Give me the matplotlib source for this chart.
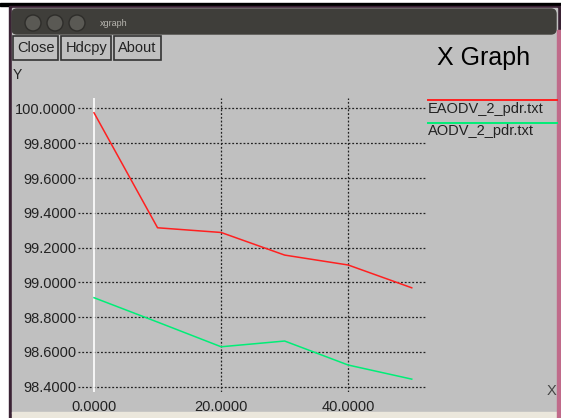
import matplotlib.pyplot as plt
from matplotlib.patches import Rectangle, FancyBboxPatch, Circle

nodos = [0, 10, 20, 30, 40, 50]
eaodv_pdr = [99.975, 99.314, 99.287, 99.157, 99.100, 98.969]
aodv_pdr = [98.912, 98.772, 98.630, 98.663, 98.525, 98.444]
series = ['EAODV_2_pdr.txt', 'AODV_2_pdr.txt']
colores = ['#ff2020', '#00ee77']
y_ticks = [98.4, 98.6, 98.8, 99.0, 99.2, 99.4, 99.6, 99.8, 100.0]
x_ticks = [0, 20, 40]
botones = ['Close', 'Hdcpy', 'About']

W, H = 561, 418
GRIS = '#c0c0c0'
TXT = '#222222'
plt.rcParams['font.family'] = ['Liberation Sans', 'DejaVu Sans']

fig = plt.figure(figsize=(W / 100, H / 100), dpi=100)
fig.patch.set_facecolor('white')

# ventana (en pixeles)
bg = fig.add_axes([0, 0, 1, 1])
bg.set_xlim(0, W)
bg.set_ylim(H, 0)
bg.axis('off')
bg.add_patch(Rectangle((0, 3), W, 3, color='black'))
bg.add_patch(Rectangle((9, 6), W - 9, H - 6, color='#3a2234'))
bg.add_patch(Rectangle((12, 8), W - 16, 405, color=GRIS))
bg.add_patch(Rectangle((12, 412), W - 16, 6, color='#ebe7dc'))
bg.add_patch(Rectangle((557, 30), 4, H, color='#c06a8a'))
bg.add_patch(FancyBboxPatch((12, 9), W - 17, 25, boxstyle='round,pad=0,rounding_size=5',
                            color='#3f3e3a'))
for cx in [33, 55, 77]:
    bg.add_patch(Circle((cx, 23), 8, color='#5a5954', ec='#2e2d2a', lw=1))
bg.text(100, 23, 'xgraph', color='#b8b6b0', fontsize=6.5, va='center')

# botones
x0 = 13
for b in botones:
    t = bg.text(0, 48, b, fontsize=10.5, color=TXT, va='center', ha='center')
    fig.canvas.draw()
    w = t.get_window_extent().width + 8
    t.set_x(x0 + w / 2)
    bg.add_patch(Rectangle((x0, 36), w, 24, fill=False, ec='#333333', lw=1.2))
    x0 += w + 3

bg.text(484, 58, 'X Graph', fontsize=18, color='black', ha='center', va='center')
bg.text(13, 75, 'Y', fontsize=10, color=TXT, va='center')
bg.text(552, 391, 'X', fontsize=10.5, color='#444444', ha='center', va='center')

# leyenda
for i, (s, c) in enumerate(zip(series, colores)):
    yl = 99.5 + i * 23
    bg.plot([428, 557], [yl, yl], color=c, lw=1.4)
    bg.text(428, yl + 9, s, fontsize=10.5, color=TXT, va='center')

# grafico
ax = fig.add_axes([78 / W, (H - 392) / H, 349 / W, 294 / H])
ax.set_facecolor(GRIS)
ax.set_xlim(-2.52, 52.4)
ax.set_ylim(98.37, 100.06)
for sp in ax.spines.values():
    sp.set_visible(False)
for yv in y_ticks:
    ax.axhline(yv, color='#222222', lw=0.9, ls=(0, (1.5, 1.5)))
for xv in x_ticks:
    if xv == 0:
        ax.axvline(xv, color='white', lw=1.2)
    else:
        ax.axvline(xv, color='#222222', lw=0.9, ls=(0, (1.5, 1.5)))
ax.plot(nodos, eaodv_pdr, color=colores[0], lw=1.1)
ax.plot(nodos, aodv_pdr, color=colores[1], lw=1.1)
ax.set_yticks(y_ticks)
ax.set_yticklabels(['%.4f' % v for v in y_ticks])
ax.set_xticks(x_ticks)
ax.set_xticklabels(['%.4f' % v for v in x_ticks])
ax.tick_params(length=0, labelsize=10.5, labelcolor=TXT)
ax.tick_params(axis='y', pad=1)
ax.tick_params(axis='x', pad=6)

fig.savefig('out.png', dpi=100, facecolor=fig.get_facecolor())
